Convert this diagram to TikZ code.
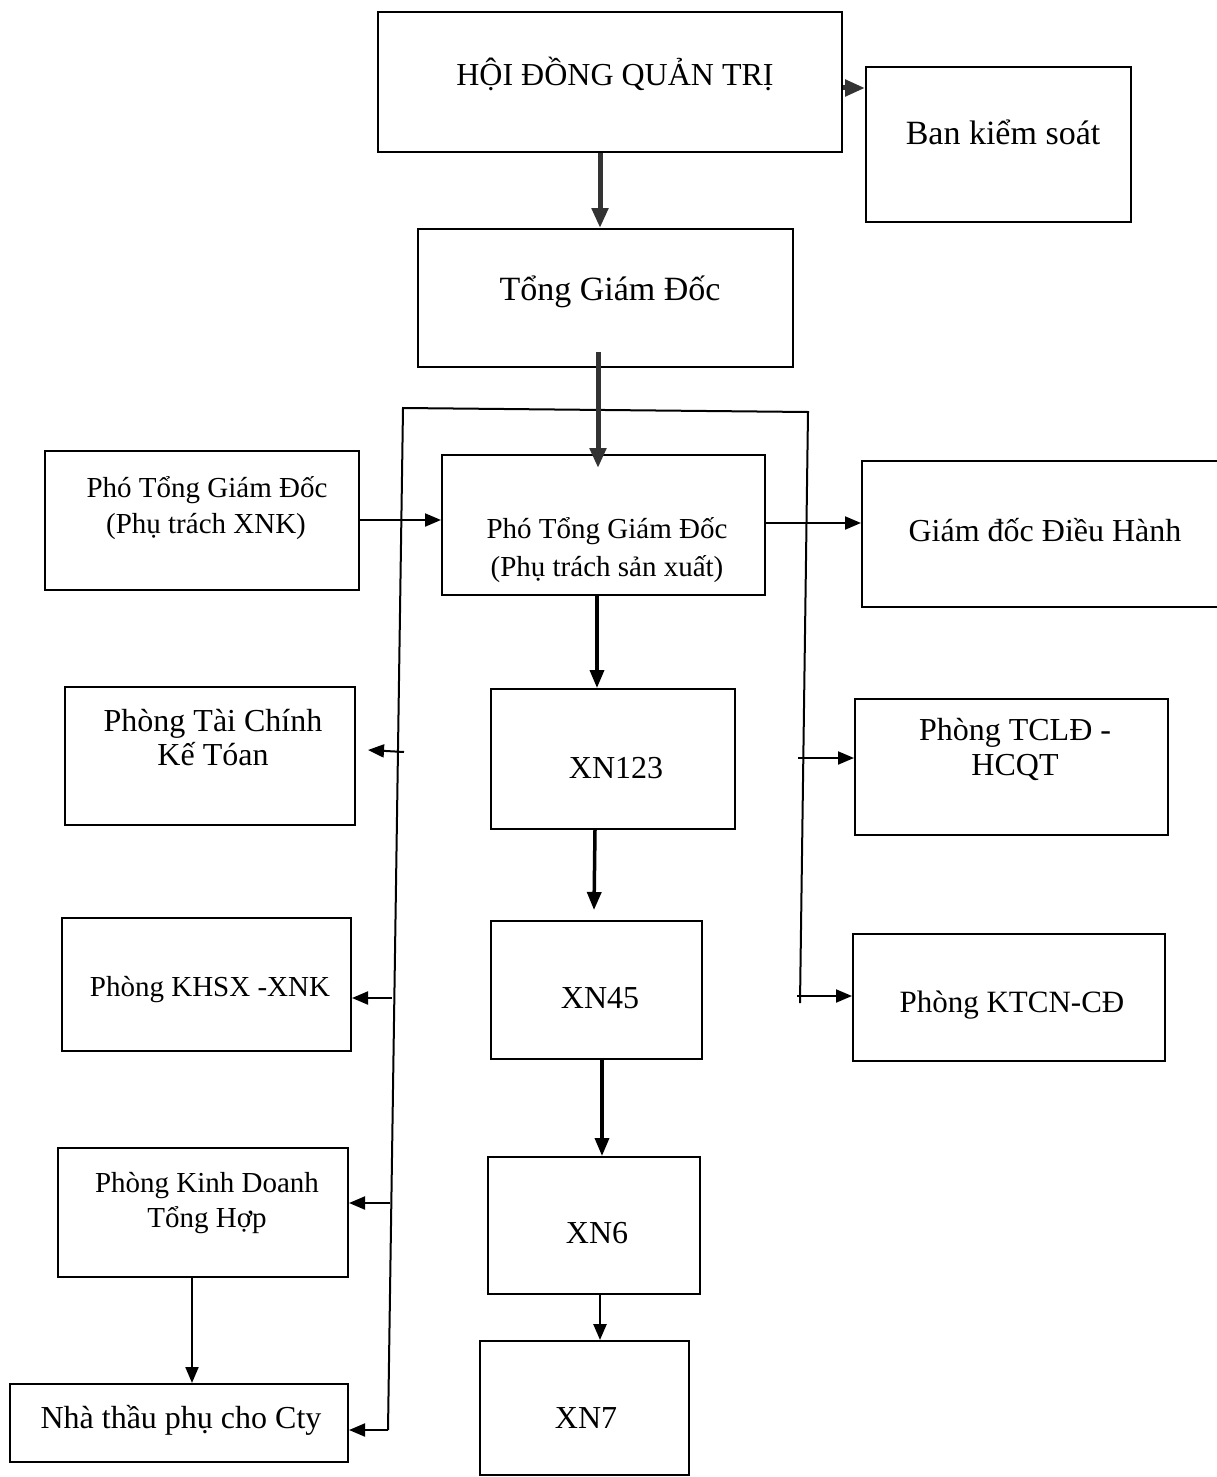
\documentclass[tikz,border=0pt]{standalone}
\usepackage{fontspec}
\setmainfont{Liberation Serif}
\usetikzlibrary{arrows.meta}
\begin{document}
\begin{tikzpicture}[x=1pt,y=-1pt,
  box/.style={draw, line width=2pt, rectangle, inner sep=0pt},
  lbl/.style={font=\fontsize{32}{37}\selectfont, inner sep=0pt, anchor=base},
  lbb/.style={font=\fontsize{34}{39}\selectfont, inner sep=0pt, anchor=base},
  lbs/.style={font=\fontsize{29}{35}\selectfont, inner sep=0pt, anchor=base},
  thinarr/.style={line width=2pt, -{Triangle[length=16pt,width=13pt]}},
  medarr/.style={line width=3.5pt, -{Triangle[length=18pt,width=14pt]}},
  bigarr/.style={line width=5pt, draw=black!80, -{Triangle[length=20pt,width=16pt]}},
  busline/.style={line width=2pt}]
\useasboundingbox (0,0) rectangle (1217,1477);
\clip (0,0) rectangle (1217,1477);

% boxes
\node[box, minimum width=464pt, minimum height=140pt] (hdqt) at (610,82) {};
\node[box, minimum width=265pt, minimum height=155pt] (bks) at (998.5,144.5) {};
\node[box, minimum width=375pt, minimum height=138pt] (tgd) at (605.5,298) {};
\node[box, minimum width=314pt, minimum height=139pt] (pxnk) at (202,520.5) {};
\node[box, minimum width=323pt, minimum height=140pt] (psx) at (603.5,525) {};
\node[box, minimum width=378pt, minimum height=146pt] (gddh) at (1051,534) {};
\node[box, minimum width=290pt, minimum height=138pt] (tckt) at (210,756) {};
\node[box, minimum width=244pt, minimum height=140pt] (xn123) at (613,759) {};
\node[box, minimum width=313pt, minimum height=136pt] (tcld) at (1011.5,767) {};
\node[box, minimum width=289pt, minimum height=133pt] (khsx) at (206.5,984.5) {};
\node[box, minimum width=211pt, minimum height=138pt] (xn45) at (596.5,990) {};
\node[box, minimum width=312pt, minimum height=127pt] (ktcn) at (1009,997.5) {};
\node[box, minimum width=290pt, minimum height=129pt] (kdth) at (203,1212.5) {};
\node[box, minimum width=212pt, minimum height=137pt] (xn6) at (594,1225.5) {};
\node[box, minimum width=338pt, minimum height=78pt] (ntp) at (179,1423) {};
\node[box, minimum width=209pt, minimum height=134pt] (xn7) at (584.5,1408) {};

% texts
\node[lbl] (t-hdqt) at (615,86) {HỘI ĐỒNG QUẢN TRỊ};
\node[lbb] (t-bks) at (1003,144) {Ban kiểm soát};
\node[lbb] (t-tgd) at (610,300) {Tổng Giám Đốc};
\node[lbs] (t-pxnk1) at (207,497) {Phó Tổng Giám Đốc};
\node[lbs] (t-pxnk2) at (206,533) {(Phụ trách XNK)};
\node[lbs] (t-psx1) at (607,538) {Phó Tổng Giám Đốc};
\node[lbs] (t-psx2) at (607,576) {(Phụ trách sản xuất)};
\node[lbl] (t-gddh) at (1045,541) {Giám đốc Điều Hành};
\node[lbl] (t-tckt1) at (213,731) {Phòng Tài Chính};
\node[lbl] (t-tckt2) at (213,765) {Kế Tóan};
\node[lbl] (t-xn123) at (616,778) {XN123};
\node[lbl] (t-tcld1) at (1015,740) {Phòng TCLĐ -};
\node[lbl] (t-tcld2) at (1015,775) {HCQT};
\node[lbs] (t-khsx) at (210,996) {Phòng KHSX -XNK};
\node[lbl] (t-xn45) at (600,1008) {XN45};
\node[font=\fontsize{31}{36}\selectfont, inner sep=0pt, anchor=base] (t-ktcn) at (1012,1012) {Phòng KTCN-CĐ};
\node[lbs] (t-kdth1) at (207,1192) {Phòng Kinh Doanh};
\node[lbs] (t-kdth2) at (207,1227) {Tổng Hợp};
\node[lbl] (t-xn6) at (597,1243) {XN6};
\node[lbl] (t-ntp) at (181,1428) {Nhà thầu phụ cho Cty};
\node[lbl] (t-xn7) at (586,1428) {XN7};

% bus lines
\coordinate (bltop) at (403,408);
\coordinate (blbot) at (388,1430);
\coordinate (brtop) at (808,412);
\coordinate (brbot) at (800,1003);
\draw[busline] (blbot) -- (bltop) -- (brtop) -- (brbot);

% top arrows
\draw[bigarr] (hdqt.east |- 0,88) -- (bks.west |- 0,88);
\draw[bigarr] (hdqt.south -| 600,0) -- (tgd.north -| 600,0);
\coordinate (tgdout) at (598,352);
\coordinate (psxin) at (598,468);
\draw[bigarr] (tgdout) -- (psxin);

% left side
\draw[thinarr] (pxnk.east |- 0,520) -- (psx.west |- 0,520);
\coordinate (tcktsrc) at (404,752);
\coordinate (tckttip) at (368,750);
\draw[thinarr] (tcktsrc) -- (tckttip);
\draw[thinarr] (392,998) -- (khsx.east |- 0,998);
\draw[thinarr] (390,1203) -- (kdth.east |- 0,1203);
\draw[thinarr] (blbot) -- (ntp.east |- blbot);
\draw[thinarr] (kdth.south -| 192,0) -- (ntp.north -| 192,0);

% right side
\draw[thinarr] (psx.east |- 0,523) -- (gddh.west |- 0,523);
\draw[thinarr] (798,758) -- (tcld.west |- 0,758);
\draw[thinarr] (797,996) -- (ktcn.west |- 0,996);

% central chain
\draw[medarr] (psx.south -| 597,0) -- (xn123.north -| 597,0);
\coordinate (xn45in) at (594,910);
\draw[medarr] (xn123.south -| 595,0) -- (xn45in);
\draw[medarr] (xn45.south -| 602,0) -- (xn6.north -| 602,0);
\draw[line width=2.5pt, -{Triangle[length=16pt,width=13pt]}] (xn6.south -| 600,0) -- (xn7.north -| 600,0);
\end{tikzpicture}
\end{document}
